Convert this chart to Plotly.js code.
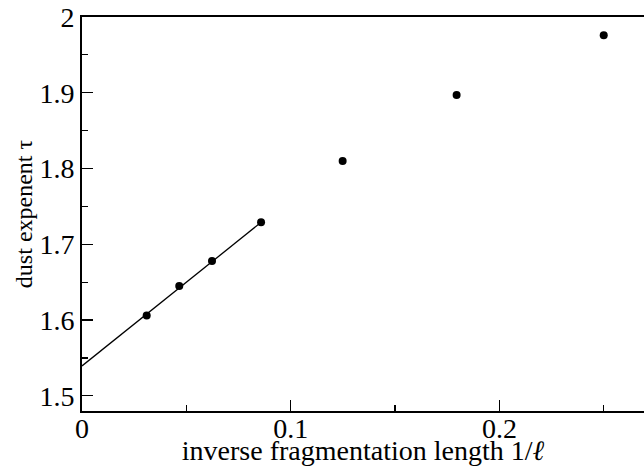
<!DOCTYPE html>
<html>
<head>
<meta charset="utf-8">
<script src="https://cdn.plot.ly/plotly-3.0.1.min.js"></script>
<style>html,body{margin:0;padding:0;background:#fff;}#chart{width:644px;height:466px;}</style>
</head>
<body>
<div id="chart"></div>
<script>
// data
const invLength = [0.0310, 0.0466, 0.0623, 0.0858, 0.1249, 0.1795, 0.2500];
const tauValues = [1.606, 1.645, 1.678, 1.729, 1.810, 1.897, 1.976];
const fitX = [0, 0.0858];
const fitY = [1.5395, 1.729];
const xTickVals = [0, 0.1, 0.2];
const yTickVals = [1.5, 1.6, 1.7, 1.8, 1.9, 2.0];
const yTickText = ['1.5', '1.6', '1.7', '1.8', '1.9', '2'];

const FAM = 'Liberation Serif, Times New Roman, serif';

const traces = [
  {x: fitX, y: fitY, mode: 'lines', line: {color: '#000', width: 1.3}, hoverinfo: 'skip'},
  {x: invLength, y: tauValues, mode: 'markers', marker: {color: '#000', size: 8}}
];

const layout = {
  width: 644, height: 466,
  margin: {l: 82, r: 0, t: 17, b: 55},
  showlegend: false,
  paper_bgcolor: '#fff', plot_bgcolor: '#fff',
  font: {family: FAM, size: 26, color: '#000'},
  xaxis: {
    range: [0, 0.2693], tickmode: 'array', tickvals: xTickVals, ticks: 'inside', ticklen: 11, tickwidth: 1.2,
    tickcolor: '#000', showline: true, linecolor: '#000', linewidth: 2, mirror: true,
    showgrid: false, zeroline: false, automargin: false, ticklabeloverflow: 'allow',
    tickfont: {family: FAM, size: 28, color: '#000'}, ticklabelstandoff: -9,
    minor: {dtick: 0.05, tick0: 0, ticks: 'inside', ticklen: 6, tickwidth: 1.2, tickcolor: '#000', showgrid: false},
    title: {text: 'inverse fragmentation length 1/<i>ℓ</i>', font: {family: FAM, size: 28, color: '#000'}, standoff: 2}
  },
  yaxis: {
    range: [1.48, 2.0], tickmode: 'array', tickvals: yTickVals, ticktext: yTickText,
    ticks: 'inside', ticklen: 11, tickwidth: 1.2,
    tickcolor: '#000', showline: true, linecolor: '#000', linewidth: 2, mirror: false,
    showgrid: false, zeroline: false, automargin: false, ticklabeloverflow: 'allow',
    tickfont: {family: FAM, size: 28, color: '#000'},
    minor: {dtick: 0.05, tick0: 1.5, ticks: 'inside', ticklen: 6, tickwidth: 1.2, tickcolor: '#000', showgrid: false},
    title: {text: 'dust expenent τ', font: {family: FAM, size: 24, color: '#000'}, standoff: 0}
  }
};

Plotly.newPlot('chart', traces, layout, {displayModeBar: false, staticPlot: true});
</script>
</body>
</html>
